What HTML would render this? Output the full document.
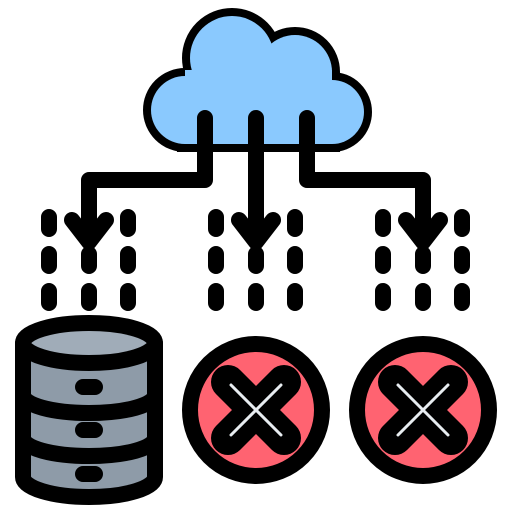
<!DOCTYPE html>
<html><head><style>html,body{margin:0;padding:0;background:#fff}svg{display:block}</style></head>
<body>
<svg width="512" height="512" viewBox="0 0 512 512" xmlns="http://www.w3.org/2000/svg">
<!-- cloud -->
<g fill="#000" stroke="#000" stroke-width="16">
<circle cx="185" cy="110" r="34"/><circle cx="232" cy="58" r="42"/><circle cx="295" cy="72" r="37"/><circle cx="332" cy="112" r="32"/>
<rect x="185" y="90" width="147" height="54"/>
</g>
<g fill="#8AC9FE">
<circle cx="185" cy="110" r="34"/><circle cx="232" cy="58" r="42"/><circle cx="295" cy="72" r="37"/><circle cx="332" cy="112" r="32"/>
<rect x="185" y="70" width="147" height="74"/>
</g>
<!-- connectors -->
<g fill="none" stroke="#000" stroke-width="16" stroke-linecap="round" stroke-linejoin="round">
<path d="M205 118 V180 H89 V236"/>
<path d="M256 118 V236"/>
<path d="M307 118 V180 H423 V236"/>
<path d="M72 220 L89 242 L106 220"/>
<path d="M239 220 L256 242 L273 220"/>
<path d="M406 220 L423 242 L440 220"/>
</g>
<!-- dots -->
<g stroke="#000" stroke-width="16" stroke-linecap="round">
<path d="M49 217V229M128 217V229M216 217V229M295 217V229M383 217V229M462 217V229"/>
<path d="M49 254V266M89 254V266M128 254V266M216 254V266M256 254V266M295 254V266M383 254V266M423 254V266M462 254V266"/>
<path d="M49 291V303M89 291V303M128 291V303M216 291V303M256 291V303M295 291V303M383 291V303M423 291V303M462 291V303"/>
</g>
<!-- database -->
<path d="M23 343 V477 A66 20 0 0 0 155 477 V343 Z" fill="#8E9BA8" stroke="#000" stroke-width="16" stroke-linejoin="round"/>
<path d="M23 395 A66 18 0 0 0 155 395 M23 438 A66 18 0 0 0 155 438" fill="none" stroke="#000" stroke-width="16"/>
<ellipse cx="89" cy="343" rx="66" ry="20" fill="#A0ACB8" stroke="#000" stroke-width="16"/>
<g stroke="#000" stroke-width="16" stroke-linecap="round">
<path d="M83 387H95M83 430H95M83 474H95"/>
</g>
<!-- x circles -->
<g>
<circle cx="256" cy="410" r="66" fill="#FF6371" stroke="#000" stroke-width="16"/>
<path d="M228 382 L284 438 M284 382 L228 438" stroke="#000" stroke-width="34" stroke-linecap="round"/>
<path d="M231 385 L281 435 M281 385 L231 435" stroke="#E8EDF1" stroke-width="3" stroke-linecap="round"/>
<circle cx="423" cy="410" r="66" fill="#FF6371" stroke="#000" stroke-width="16"/>
<path d="M395 382 L451 438 M451 382 L395 438" stroke="#000" stroke-width="34" stroke-linecap="round"/>
<path d="M398 385 L448 435 M448 385 L398 435" stroke="#E8EDF1" stroke-width="3" stroke-linecap="round"/>
</g>
</svg>
</body></html>
